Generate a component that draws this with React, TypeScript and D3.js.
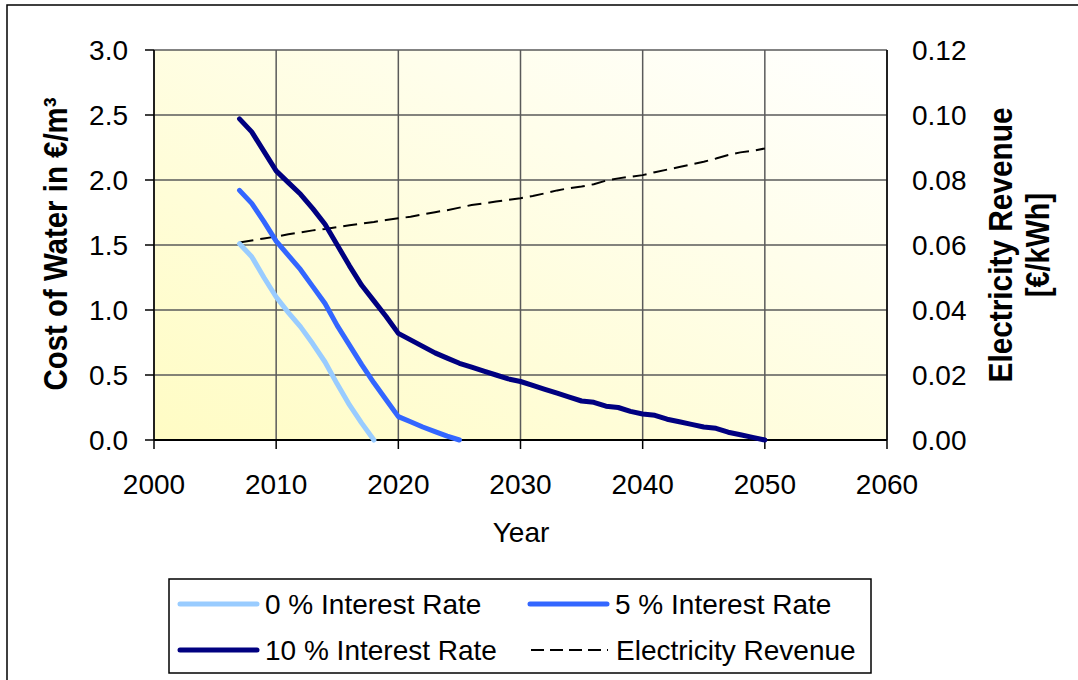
import React from 'react';
import * as d3 from 'd3';

// data
const years = [
  2007, 2008, 2009, 2010, 2011, 2012, 2013, 2014, 2015, 2016, 2017, 2018, 2019, 2020, 2021,
  2022, 2023, 2024, 2025, 2026, 2027, 2028, 2029, 2030, 2031, 2032, 2033, 2034, 2035, 2036,
  2037, 2038, 2039, 2040, 2041, 2042, 2043, 2044, 2045, 2046, 2047, 2048, 2049, 2050,
];
const rate0 = [1.51, 1.41, 1.25, 1.10, 0.98, 0.87, 0.74, 0.60, 0.43, 0.27, 0.13, 0.0];
const rate5 = [
  1.92, 1.82, 1.68, 1.53, 1.42, 1.31, 1.18, 1.05, 0.88, 0.73, 0.58, 0.44, 0.31, 0.18, 0.14,
  0.10, 0.065, 0.03, 0.0,
];
const rate10 = [
  2.47, 2.37, 2.22, 2.07, 1.98, 1.89, 1.78, 1.66, 1.50, 1.34, 1.19, 1.07, 0.95, 0.82, 0.77,
  0.72, 0.67, 0.63, 0.59, 0.56, 0.53, 0.50, 0.47, 0.45, 0.42, 0.39, 0.36, 0.33, 0.30, 0.29,
  0.26, 0.25, 0.22, 0.20, 0.19, 0.16, 0.14, 0.12, 0.10, 0.09, 0.06, 0.04, 0.02, 0.0,
];
const electricity = [
  0.0608, 0.0614, 0.062, 0.0626, 0.0633, 0.0639, 0.0645, 0.0649, 0.0655, 0.0661, 0.0666,
  0.0671, 0.0677, 0.0682, 0.0687, 0.0694, 0.0701, 0.0707, 0.0715, 0.0723, 0.0728, 0.0734,
  0.0739, 0.0744, 0.0751, 0.0759, 0.0768, 0.0775, 0.078, 0.0787, 0.0798, 0.0805, 0.081,
  0.0815, 0.0824, 0.0832, 0.084, 0.0848, 0.0856, 0.0866, 0.0877, 0.0885, 0.089, 0.0897,
];
const xTicks = [2000, 2010, 2020, 2030, 2040, 2050, 2060];
const yLeftTicks = [0, 0.5, 1, 1.5, 2, 2.5, 3];
const yRightTicks = [0, 0.02, 0.04, 0.06, 0.08, 0.1, 0.12];

const seriesColors = { r0: '#99CCFF', r5: '#3366FF', r10: '#000080' };
const font = '"Liberation Sans", Arial, sans-serif';

const App: React.FC = () => {
  const width = 1078;
  const height = 680;
  const left = 154;
  const right = 887;
  const top = 50;
  const bottom = 440;

  const x = d3.scaleLinear().domain([2000, 2060]).range([left, right]);
  const yL = d3.scaleLinear().domain([0, 3]).range([bottom, top]);
  const yR = d3.scaleLinear().domain([0, 0.12]).range([bottom, top]);

  const lineL = d3.line<number>().x((_, i) => x(years[i])).y(d => yL(d));
  const lineR = d3.line<number>().x((_, i) => x(years[i])).y(d => yR(d));

  const legendItems = [
    { label: '0 % Interest Rate', color: seriesColors.r0, dash: false, lx: 180, ly: 604 },
    { label: '5 % Interest Rate', color: seriesColors.r5, dash: false, lx: 530, ly: 604 },
    { label: '10 % Interest Rate', color: seriesColors.r10, dash: false, lx: 180, ly: 650 },
    { label: 'Electricity Revenue', color: '#000', dash: true, lx: 531, ly: 650 },
  ];

  return (
    <svg width={width} height={height} style={{ position: 'absolute', left: 0, top: 0 }} fontFamily={font}>
      <defs>
        <linearGradient id="plotBg" x1="0" y1="1" x2="1" y2="0">
          <stop offset="0%" stopColor="#FFFCC4" />
          <stop offset="100%" stopColor="#FFFFFF" />
        </linearGradient>
      </defs>
      <rect x={0} y={0} width={width} height={height} fill="#fff" />
      <rect x={7} y={5} width={1200} height={800} fill="none" stroke="#000" strokeWidth={1.5} />

      <rect x={left} y={top} width={right - left} height={bottom - top} fill="url(#plotBg)" />

      {/* grid */}
      {yLeftTicks.map(t => (
        <line key={'gy' + t} x1={left} x2={right} y1={yL(t)} y2={yL(t)} stroke="#5a5a5a" strokeWidth={1.5} />
      ))}
      {xTicks.map(t => (
        <line key={'gx' + t} x1={x(t)} x2={x(t)} y1={top} y2={bottom} stroke="#5a5a5a" strokeWidth={1.5} />
      ))}

      {/* axes */}
      <line x1={left} x2={left} y1={top} y2={bottom} stroke="#000" strokeWidth={1.5} />
      <line x1={right} x2={right} y1={top} y2={bottom} stroke="#000" strokeWidth={1.5} />
      <line x1={left} x2={right} y1={bottom} y2={bottom} stroke="#000" strokeWidth={2} />
      {yLeftTicks.map(t => (
        <g key={'ly' + t}>
          <line x1={left - 9} x2={left} y1={yL(t)} y2={yL(t)} stroke="#000" strokeWidth={1.5} />
          <text x={128} y={yL(t) + 10} textAnchor="end" fontSize={28}>{t.toFixed(1)}</text>
        </g>
      ))}
      {yRightTicks.map(t => (
        <text key={'ry' + t} x={912} y={yR(t) + 10} textAnchor="start" fontSize={28}>{t.toFixed(2)}</text>
      ))}
      {xTicks.map(t => (
        <g key={'lx' + t}>
          <line x1={x(t)} x2={x(t)} y1={bottom} y2={bottom + 9} stroke="#000" strokeWidth={1.5} />
          <text x={x(t)} y={494} textAnchor="middle" fontSize={28}>{t}</text>
        </g>
      ))}

      {/* titles */}
      <text x={521} y={542} textAnchor="middle" fontSize={28}>Year</text>
      <text transform="translate(67,244) rotate(-90)" textAnchor="middle" fontSize={34} fontWeight="bold"
        textLength={293} lengthAdjust="spacingAndGlyphs">
        Cost of Water in €/m³
      </text>
      <text transform="translate(1012,245) rotate(-90)" textAnchor="middle" fontSize={34} fontWeight="bold"
        textLength={275} lengthAdjust="spacingAndGlyphs">
        Electricity Revenue
      </text>
      <text transform="translate(1049,245) rotate(-90)" textAnchor="middle" fontSize={34} fontWeight="bold"
        textLength={104} lengthAdjust="spacingAndGlyphs">
        [€/kWh]
      </text>

      {/* series */}
      <path d={lineR(electricity) || undefined} fill="none" stroke="#000" strokeWidth={2} strokeDasharray="14,7" />
      <path d={lineL(rate0) || undefined} fill="none" stroke={seriesColors.r0} strokeWidth={5} strokeLinecap="round" strokeLinejoin="round" />
      <path d={lineL(rate5) || undefined} fill="none" stroke={seriesColors.r5} strokeWidth={5} strokeLinecap="round" strokeLinejoin="round" />
      <path d={lineL(rate10) || undefined} fill="none" stroke={seriesColors.r10} strokeWidth={5} strokeLinecap="round" strokeLinejoin="round" />

      {/* legend */}
      <rect x={169} y={579} width={702} height={94} fill="#fff" stroke="#000" strokeWidth={1.5} />
      {legendItems.map(it => (
        <g key={it.label}>
          <line x1={it.lx} x2={it.lx + 77} y1={it.ly} y2={it.ly} stroke={it.color}
            strokeWidth={it.dash ? 2 : 5} strokeDasharray={it.dash ? '13,6' : undefined}
            strokeLinecap={it.dash ? 'butt' : 'round'} />
          <text x={it.lx + 85} y={it.ly + 10} fontSize={28}>{it.label}</text>
        </g>
      ))}
    </svg>
  );
};

export default App;
